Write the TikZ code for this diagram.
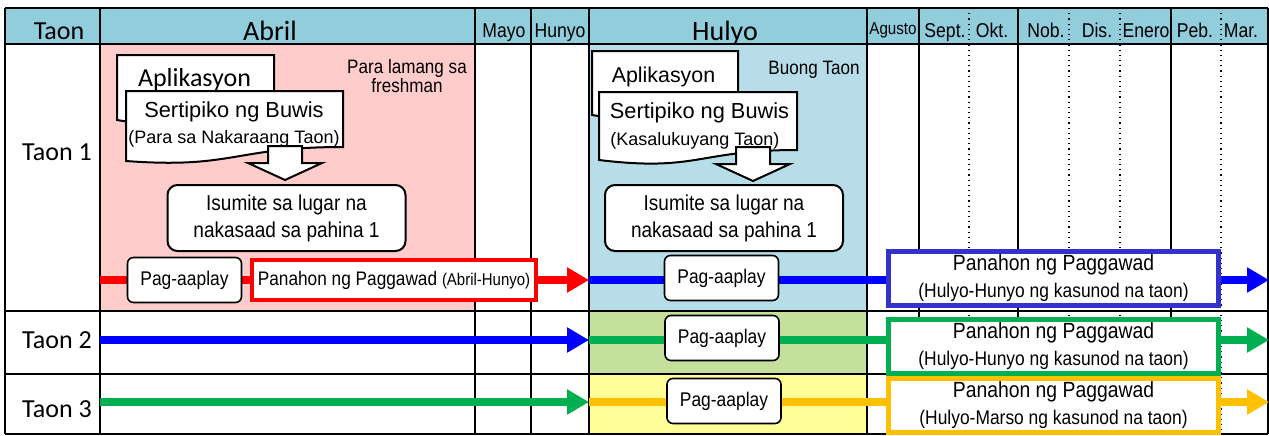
\documentclass[tikz,border=0pt]{standalone}
\usepackage{fontspec}
\setmainfont{Liberation Sans}
\newfontfamily\carlito{Carlito}
\newfontfamily\narrowsf[FakeStretch=0.88]{Liberation Sans}
\usetikzlibrary{arrows.meta,positioning}
\definecolor{hdr}{RGB}{146,205,220}
\definecolor{pinkc}{RGB}{255,204,204}
\definecolor{bluec}{RGB}{183,222,232}
\definecolor{greenc}{RGB}{196,224,156}
\definecolor{yellowc}{RGB}{255,255,153}
\definecolor{abl}{RGB}{0,0,255}
\definecolor{agr}{RGB}{0,176,80}
\definecolor{aor}{RGB}{255,192,0}
\definecolor{bbl}{RGB}{51,51,204}
\tikzset{grid/.style={line width=0.8pt,black},
lbl/.style={font=\carlito\fontsize{13}{15}\selectfont,anchor=base,inner sep=0pt},
big/.style={font=\carlito\fontsize{14}{16}\selectfont},
mon/.style={font=\narrowsf\fontsize{10}{12}\selectfont,anchor=base,inner sep=0pt},
sert/.style={font=\fontsize{10.9}{13}\selectfont,anchor=base,inner sep=0pt},
subt/.style={font=\fontsize{9}{11}\selectfont,anchor=base,inner sep=0pt},
note/.style={font=\narrowsf\fontsize{9.7}{12}\selectfont,inner sep=0pt,align=center},
doc/.style={draw,fill=white,line width=1pt},
blk/.style={draw,fill=white,line width=1pt,line join=miter},
pag/.style={draw,rounded corners=3pt,fill=white,line width=0.8pt,minimum width=57pt,minimum height=22.5pt,inner sep=0pt,font=\narrowsf\fontsize{9.9}{12}\selectfont},
isu/.style={draw,rounded corners=5pt,fill=white,line width=1pt,minimum width=119pt,minimum height=33pt,inner sep=0pt,align=center,font=\narrowsf\fontsize{10.8}{13.5}\selectfont},
per/.style={draw,fill=white,line width=2.5pt,minimum width=165pt,minimum height=27pt,inner sep=0pt,align=center,font=\narrowsf\fontsize{11}{13.5}\selectfont},
arr/.style={line width=3.8pt,-{Triangle[length=11pt,width=12pt]}}}
\begin{document}
\begin{tikzpicture}[x=0.5pt,y=-0.5pt]
\useasboundingbox(0,0)rectangle(1269,435);
\fill[hdr](5,8)rectangle(1268,44);
\fill[pinkc](100,44)rectangle(475,311);
\fill[bluec](589,44)rectangle(867,311);
\fill[greenc](589,311)rectangle(867,374);
\fill[yellowc](589,374)rectangle(867,434);
\foreach\x in{5,100,475,531,589,867,919,1018,1171,1268}\draw[grid](\x,8)--(\x,434);
\foreach\x in{969,1069,1120,1221}\draw[grid,line width=0.6pt,dotted](\x,8)--(\x,434);
\foreach\y in{8,44,311,374,434}\draw[grid](5,\y)--(1268,\y);
% header and year labels
\node[lbl](hTaon)at(59,39){Taon};
\node[lbl,big](hAbril)at(270,40){Abril};
\node[lbl,big](hHulyo)at(725,40){Hulyo};
\foreach\x/\m[count=\i]in{504/Mayo,560/Hunyo,945/Sept.,992/Okt.,1046/Nob.,1097/Dis.,1146/Enero,1195/Peb.,1241/Mar.}\node[mon](mon\i)at(\x,37){\m};
\node[mon,font=\narrowsf\fontsize{8.6}{10}\selectfont](monAg)at(893,34){Agusto};
\foreach\i/\y in{1/160,2/348,3/417}\node[lbl](taon\i)at(57,\y){Taon \i};
% periods
\foreach\i/\y in{1/280,2/340,3/402}{\coordinate(s\i)at(100,\y);\coordinate(m\i)at(589,\y);\coordinate(e\i)at(1269,\y);}
\foreach\i/\ca/\cb in{1/red/abl,2/abl/agr,3/agr/aor}{\draw[arr,\ca](s\i)--(m\i);\draw[arr,\cb](m\i)--(e\i);}
% documents
\draw[doc](117,55)--(274,55)--(274,111)..controls(195,111)and(195,133)..(117,120)--cycle;
\node[lbl](apl1)at(194.5,86){Aplikasyon};
\draw[doc](126,91)--(343,91)--(343,147)..controls(234,147)and(234,169)..(126,161)--cycle;
\node[sert](ser1)at(234,117){Sertipiko ng Buwis};
\node[subt](sub1)at(234,143){(Para sa Nakaraang Taon)};
\draw[doc](592,51)--(738,51)--(738,106)..controls(665,106)and(665,127)..(592,115)--cycle;
\node[sert,font=\fontsize{10.7}{13}\selectfont](apl2)at(663.5,82){Aplikasyon};
\draw[doc](599,92)--(797,92)--(797,150)..controls(698,150)and(698,172)..(599,160)--cycle;
\node[sert](ser2)at(699.5,118){Sertipiko ng Buwis};
\node[subt,anchor=base west](sub2)at(610,145){(Kasalukuyang Taon)};
\node[isu](isu1)at(286.5,218){Isumite sa lugar na\\nakasaad sa pahina 1};
\node[isu](isu2)at(724,218){Isumite sa lugar na\\nakasaad sa pahina 1};
\foreach\n/\dx/\dy in{1/-1.5/-4,2/29/-3}\draw[blk](isu\n.north)++(\dx,\dy)--++(37,-17)--++(-20,0)--++(0,-17)--++(-34,0)--++(0,17)--++(-20,0)--cycle;
\node[note](fresh)at(407,76){Para lamang sa\\[-2.5pt]freshman};
\node[note,anchor=base](buong)at(814,74){Buong Taon};
% boxes on the arrows
\foreach\i/\x/\y in{1/184.5/280,2/721.5/278,3/722/338,4/724/401}\node[pag](pag\i)at(\x,\y){Pag-aaplay};
\node[per,draw=red,line width=1.7pt,minimum width=142pt,minimum height=20pt,font=\narrowsf\fontsize{9.8}{12}\selectfont](per0)at(394,280){Panahon ng Paggawad {\fontsize{8.5}{10}\selectfont(Abril-Hunyo)}};
\foreach\i/\c/\y/\t in{1/bbl/278/Hunyo,2/agr/346.5/Hunyo,3/aor/405.5/Marso}\node[per,draw=\c](per\i)at(1053.5,\y){Panahon ng Paggawad\\{\fontsize{9.9}{13.5}\selectfont(Hulyo-\t{} ng kasunod na taon)}};
\end{tikzpicture}
\end{document}
